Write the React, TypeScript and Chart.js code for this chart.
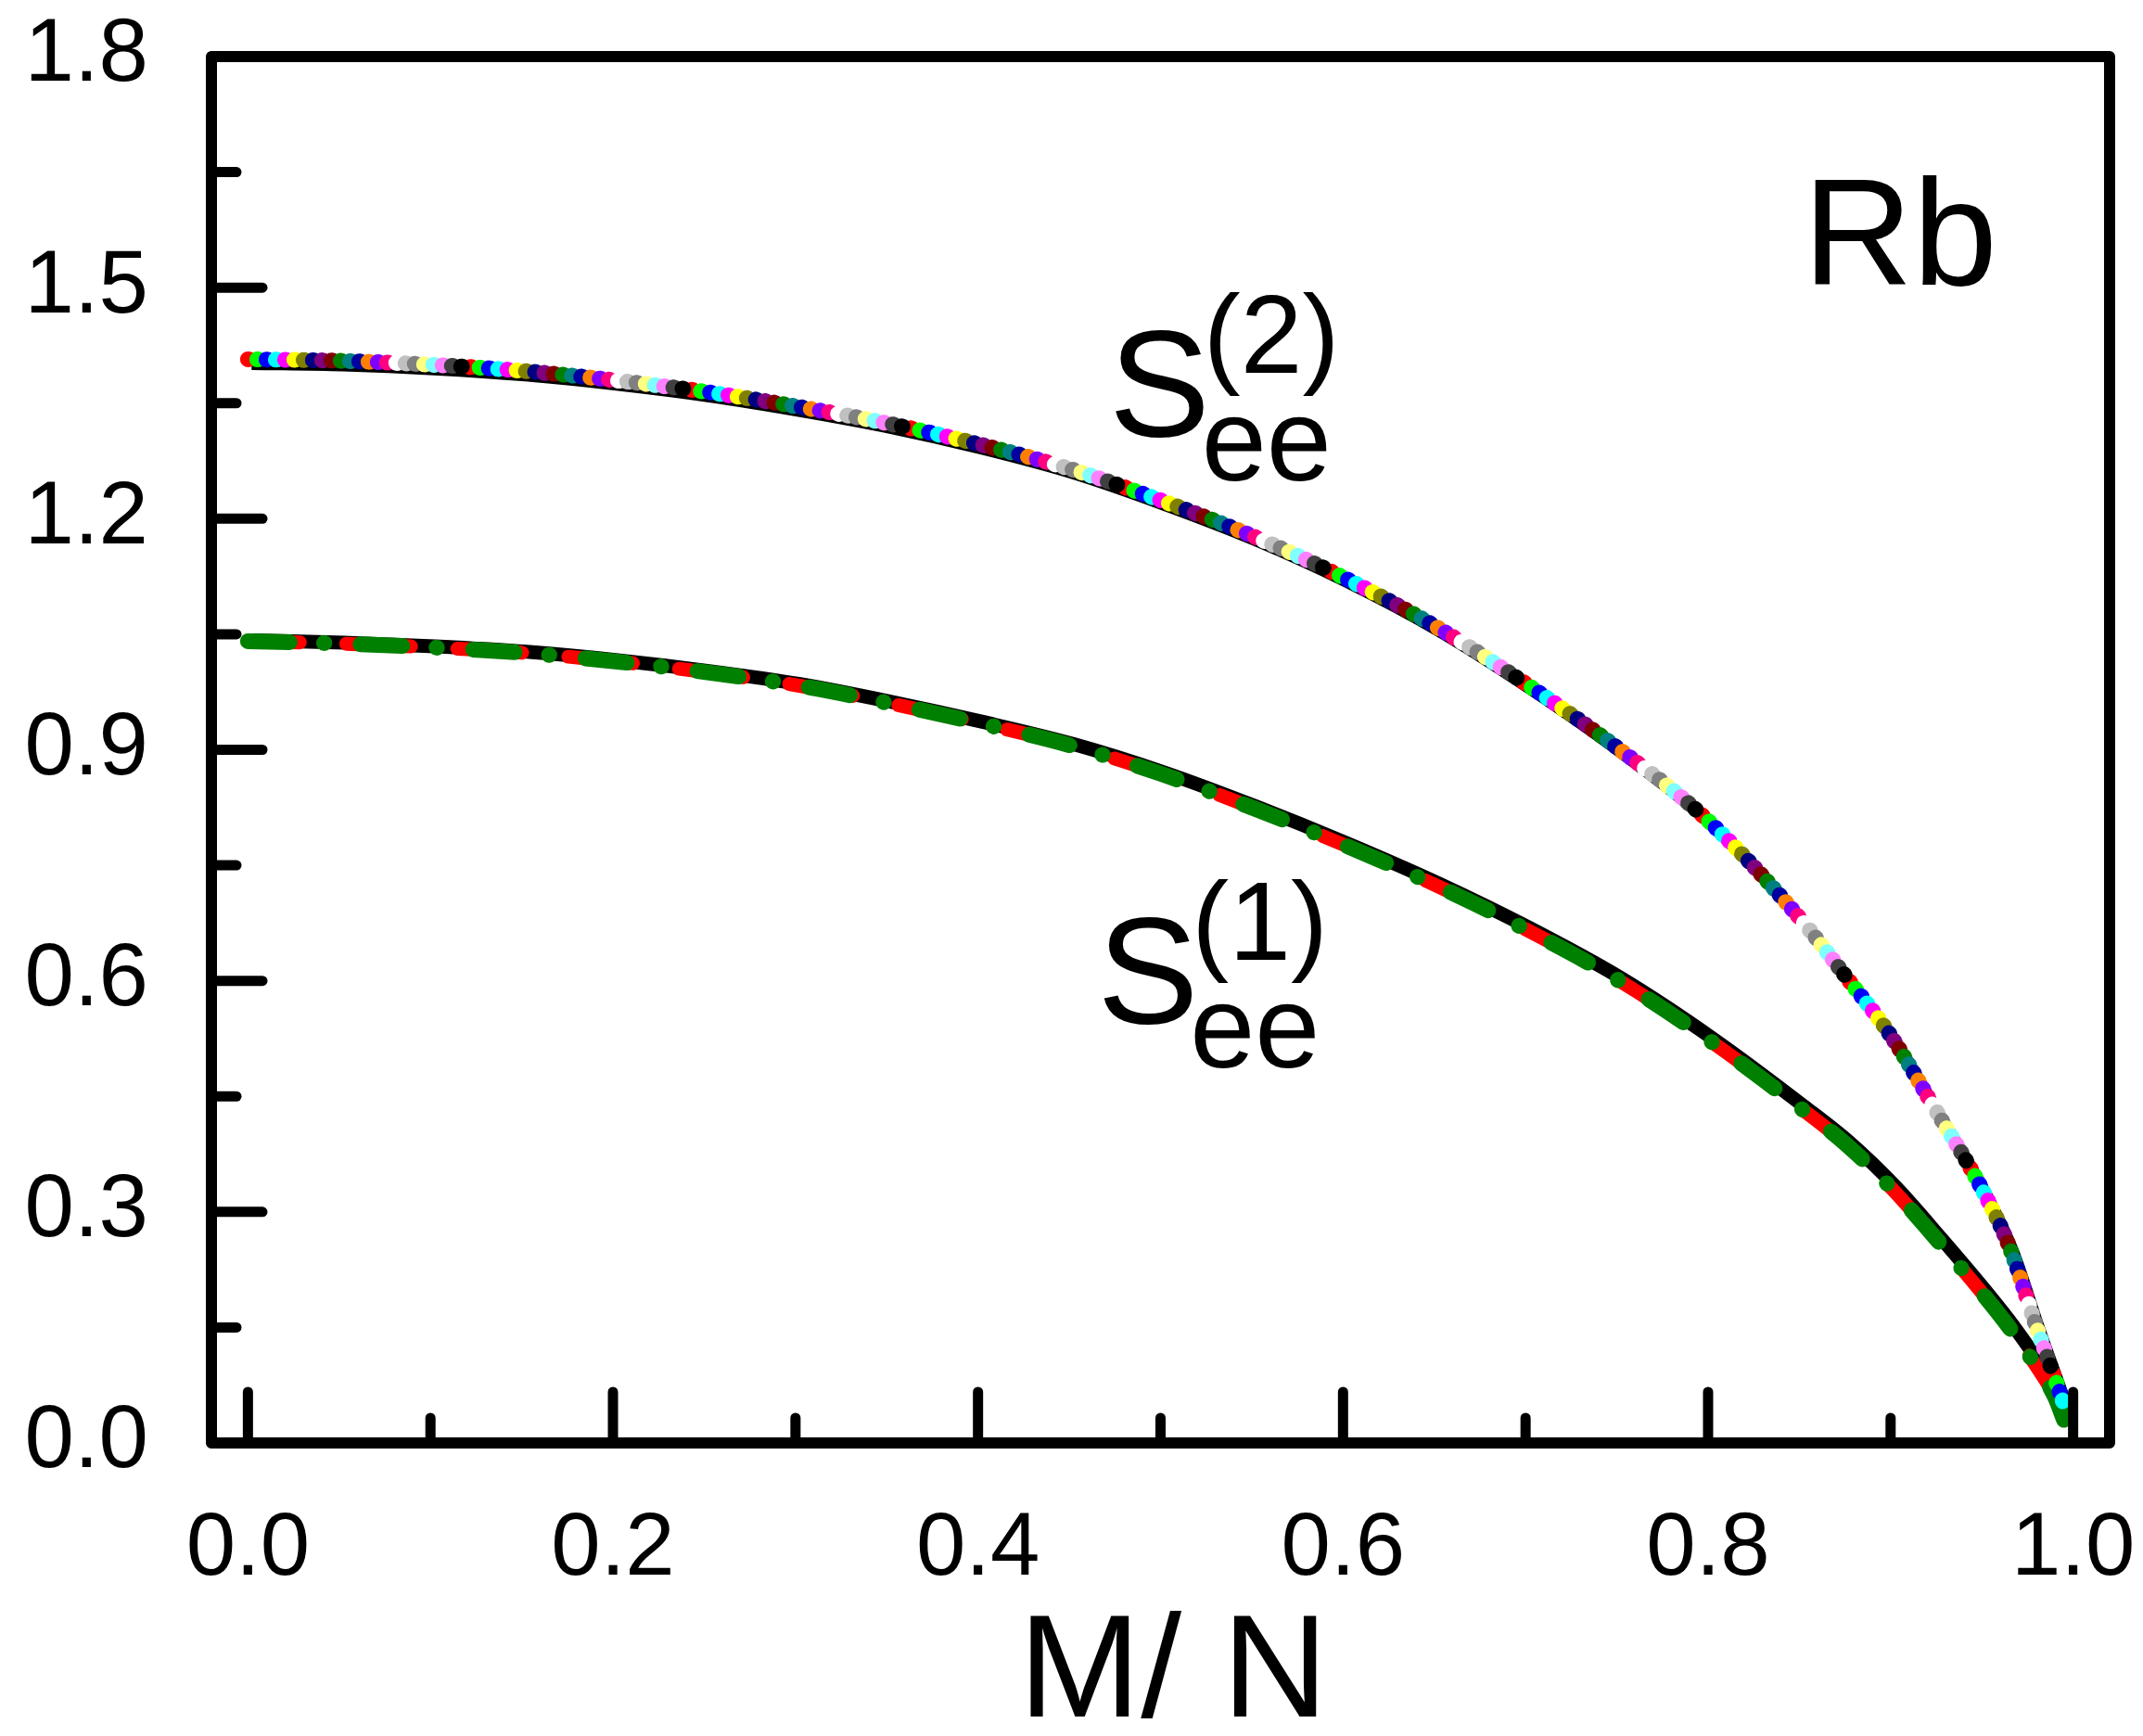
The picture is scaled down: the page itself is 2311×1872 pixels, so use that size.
import React, { useEffect, useRef } from 'react';
import { Chart, registerables, Plugin } from 'chart.js';

Chart.register(...registerables);

const FONT = '"Liberation Sans", Arial, sans-serif';

// M/N values where the curves were read
const massRatio = [0, 0.05, 0.1, 0.15, 0.2, 0.25, 0.3, 0.35, 0.4, 0.45, 0.5, 0.55, 0.6, 0.65, 0.7, 0.75, 0.8, 0.85, 0.875, 0.9, 0.925, 0.95, 0.965, 0.98, 0.99, 0.995];
// S_ee^(2), upper curve
const see2 = [1.407, 1.405, 1.400, 1.392, 1.380, 1.365, 1.346, 1.324, 1.297, 1.265, 1.224, 1.178, 1.124, 1.061, 0.986, 0.903, 0.808, 0.682, 0.607, 0.529, 0.431, 0.330, 0.255, 0.150, 0.084, 0.050];
// S_ee^(1), lower curve
const see1 = [1.041, 1.038, 1.033, 1.026, 1.015, 1.001, 0.984, 0.961, 0.935, 0.906, 0.869, 0.825, 0.777, 0.725, 0.667, 0.602, 0.524, 0.436, 0.389, 0.332, 0.265, 0.195, 0.150, 0.099, 0.060, 0.030];

const xLabels = [0, 0.2, 0.4, 0.6, 0.8, 1.0];
const yLabels = [0, 0.3, 0.6, 0.9, 1.2, 1.5, 1.8];
const xTitle = 'M/ N';

// Origin default colour cycle used for the dotted upper curve
const originColors = [
    '#FF0000', '#00FF00', '#0000FF', '#00FFFF', '#FF00FF', '#FFFF00', '#808000', '#000080',
    '#800080', '#800000', '#008000', '#008080', '#0000A0', '#FF8000', '#8000FF', '#FF0080',
    '#FFFFFF', '#C0C0C0', '#808080', '#FFFF80', '#80FFFF', '#FF80FF', '#404040', '#000000',
];

const notes = [
    { main: 'Rb', sup: '', sub: '', x: 0.852, y: 1.504 },
    { main: 'S', sup: '(2)', sub: 'ee', x: 0.4717, y: 1.3075 },
    { main: 'S', sup: '(1)', sub: 'ee', x: 0.4653, y: 0.5454 },
];

const isLabel = (list: number[], v: number) => list.some((l) => Math.abs(l - v) < 1e-6);

// lets a dataset be drawn with a small pixel shift (the black under-curves)
const shiftPlugin: Plugin<'line'> = {
    id: 'shift',
    beforeDatasetDraw(chart, args) {
        const ds: any = chart.data.datasets[args.index];
        chart.ctx.save();
        if (ds.shift) chart.ctx.translate(ds.shift[0], ds.shift[1]);
    },
    afterDatasetDraw(chart) {
        chart.ctx.restore();
    },
};

const framePlugin: Plugin<'line'> = {
    id: 'frame',
    afterDraw(chart) {
        const { ctx, chartArea: a, scales } = chart;
        const xs = scales.x;
        const ys = scales.y;
        ctx.save();
        ctx.strokeStyle = '#000';
        ctx.lineWidth = 12;
        ctx.lineJoin = 'round';
        ctx.strokeRect(a.left, a.top, a.right - a.left, a.bottom - a.top);

        ctx.lineCap = 'round';
        ctx.lineWidth = 11;
        xs.ticks.forEach((t) => {
            const px = xs.getPixelForValue(t.value);
            const len = isLabel(xLabels, t.value) ? 55 : 27;
            ctx.beginPath();
            ctx.moveTo(px, a.bottom);
            ctx.lineTo(px, a.bottom - len);
            ctx.stroke();
        });
        ys.ticks.forEach((t) => {
            const py = ys.getPixelForValue(t.value);
            const len = isLabel(yLabels, t.value) ? 55 : 27;
            ctx.beginPath();
            ctx.moveTo(a.left, py);
            ctx.lineTo(a.left + len, py);
            ctx.stroke();
        });

        ctx.fillStyle = '#000';
        ctx.textBaseline = 'alphabetic';

        ctx.textAlign = 'center';
        ctx.font = `158px ${FONT}`;
        ctx.fillText(xTitle, xs.getPixelForValue(0.507), a.bottom + 295);

        ctx.textAlign = 'left';
        notes.forEach((n) => {
            const px = xs.getPixelForValue(n.x);
            const py = ys.getPixelForValue(n.y);
            ctx.font = `164px ${FONT}`;
            ctx.fillText(n.main, px, py);
            if (n.sup) {
                ctx.font = `120px ${FONT}`;
                ctx.fillText(n.sup, px + 102, py - 68);
            }
            if (n.sub) {
                ctx.font = `126px ${FONT}`;
                ctx.fillText(n.sub, px + 100, py + 48);
            }
        });
        ctx.restore();
    },
};

const App: React.FC = () => {
    const canvasRef = useRef<HTMLCanvasElement>(null);
    const chartRef = useRef<Chart>();

    useEffect(() => {
        if (!canvasRef.current) return;
        const ctx = canvasRef.current.getContext('2d');
        if (!ctx) return;
        if (chartRef.current) chartRef.current.destroy();

        const upper = massRatio.map((x, i) => ({ x, y: see2[i] }));
        const lower = massRatio.map((x, i) => ({ x, y: see1[i] }));

        const dotSets = originColors.map((c, i) => ({
            data: upper,
            borderColor: c,
            borderWidth: 17,
            borderCapStyle: 'round' as const,
            borderDash: [1, originColors.length * 10 - 1],
            borderDashOffset: -10 * i,
            order: -i,
            cubicInterpolationMode: 'monotone' as const,
        }));

        chartRef.current = new Chart(ctx, {
            type: 'line',
            data: {
                datasets: [
                    {
                        data: upper,
                        borderColor: '#000',
                        borderWidth: 13,
                        order: 100,
                        shift: [4, 5],
                        cubicInterpolationMode: 'monotone',
                    } as any,
                    ...dotSets,
                    {
                        data: lower,
                        borderColor: '#000',
                        borderWidth: 15,
                        order: 100,
                        shift: [5, -1],
                        cubicInterpolationMode: 'monotone',
                    } as any,
                    {
                        data: lower,
                        borderColor: '#FF0000',
                        borderWidth: 15,
                        borderCapStyle: 'round',
                        borderDash: [70, 50],
                        borderDashOffset: 14,
                        order: 50,
                        cubicInterpolationMode: 'monotone',
                    },
                    {
                        data: lower,
                        borderColor: '#008000',
                        borderWidth: 17,
                        borderCapStyle: 'round',
                        borderDash: [45, 37, 0.5, 39],
                        order: 40,
                        cubicInterpolationMode: 'monotone',
                    },
                ],
            },
            options: {
                animation: false,
                responsive: true,
                maintainAspectRatio: false,
                devicePixelRatio: 1,
                layout: { padding: { top: 61, right: 36, left: 0, bottom: 0 } },
                elements: { point: { radius: 0 } },
                plugins: { legend: { display: false }, tooltip: { enabled: false } },
                scales: {
                    x: {
                        type: 'linear',
                        min: -0.02,
                        max: 1.02,
                        grid: { display: false },
                        border: { display: false },
                        ticks: {
                            stepSize: 0.1,
                            includeBounds: false,
                            autoSkip: false,
                            maxRotation: 0,
                            padding: 60,
                            color: '#000',
                            font: { family: FONT, size: 96, lineHeight: 1 },
                            callback: (v) => (isLabel(xLabels, Number(v)) ? Number(v).toFixed(1) : ''),
                        },
                        afterFit: (s) => {
                            s.height = 316;
                            s.paddingLeft = 0;
                            s.paddingRight = 0;
                        },
                    },
                    y: {
                        min: 0,
                        max: 1.8,
                        grid: { display: false },
                        border: { display: false },
                        ticks: {
                            stepSize: 0.15,
                            maxTicksLimit: 40,
                            autoSkip: false,
                            padding: 60,
                            color: '#000',
                            font: { family: FONT, size: 96, lineHeight: 1 },
                            callback: (v) => (isLabel(yLabels, Number(v)) ? Number(v).toFixed(1) : ''),
                        },
                        afterFit: (s) => {
                            s.width = 228;
                            s.paddingTop = 0;
                            s.paddingBottom = 0;
                        },
                    },
                },
            },
            plugins: [shiftPlugin, framePlugin],
        });

        return () => {
            if (chartRef.current) {
                chartRef.current.destroy();
                chartRef.current = undefined;
            }
        };
    }, []);

    return (
        <div style={{ position: 'absolute', left: 0, top: 0, width: 2311, height: 1872, background: '#fff' }}>
            <canvas ref={canvasRef} />
        </div>
    );
};

export default App;
